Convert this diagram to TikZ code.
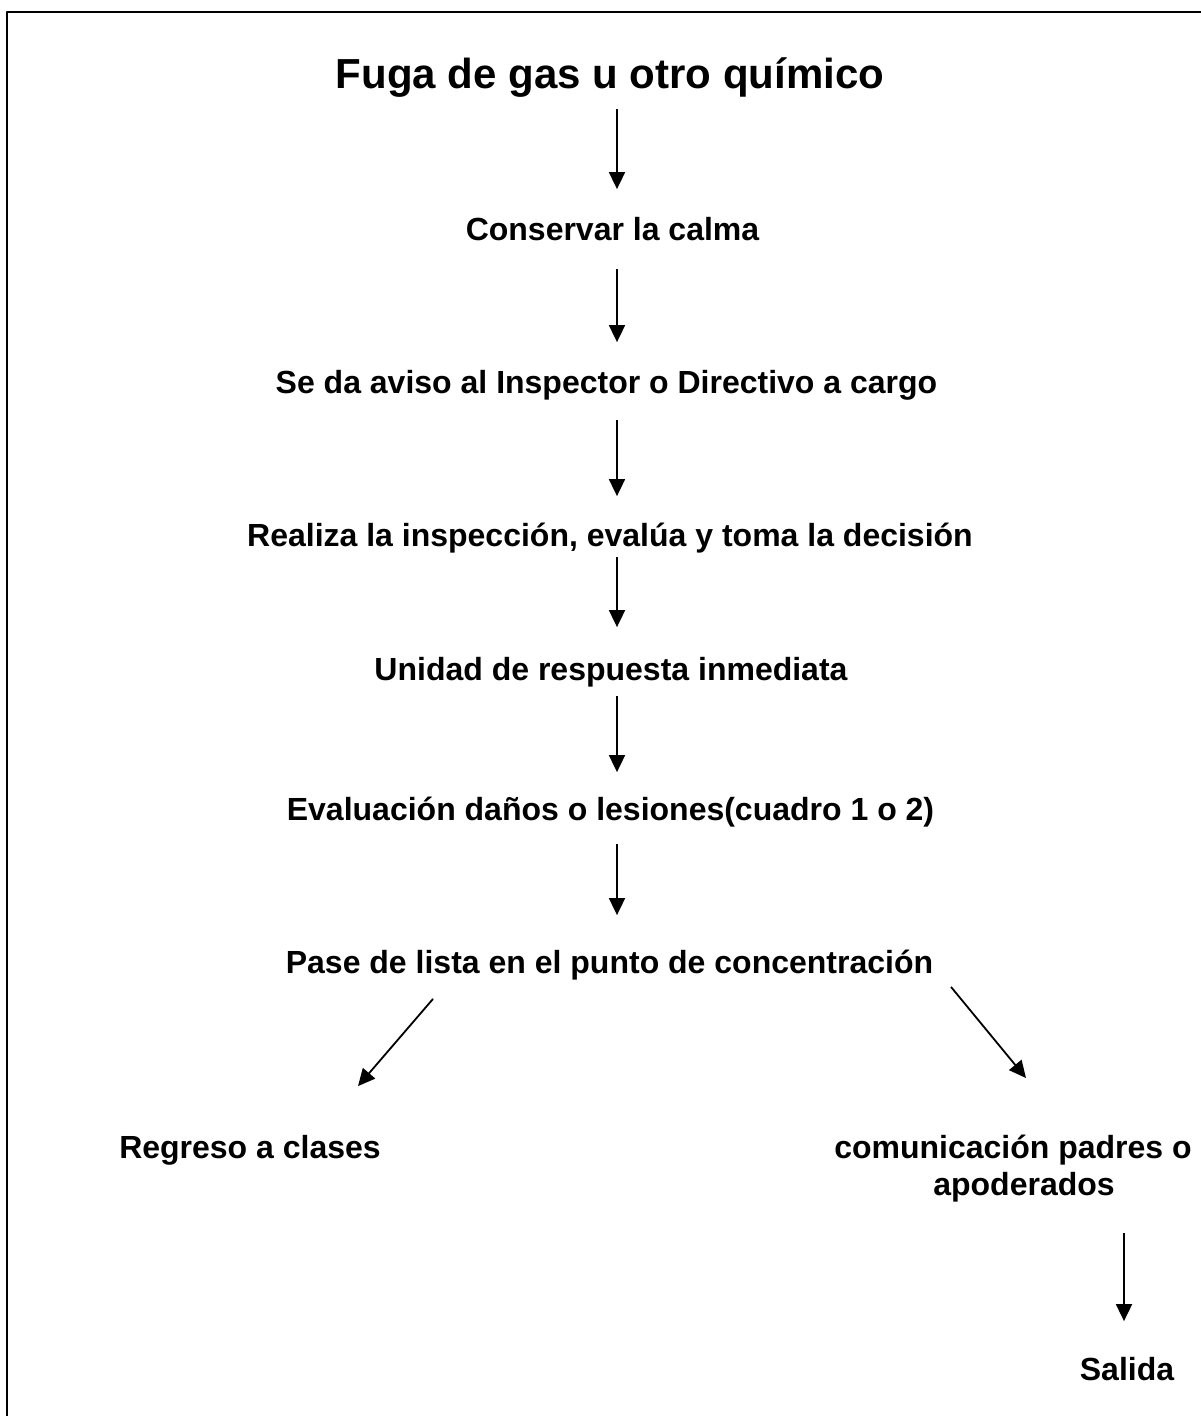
\documentclass[tikz,border=0pt]{standalone}
\usepackage{fontspec}
\setmainfont{Liberation Sans}
\usetikzlibrary{arrows.meta,positioning}

\tikzset{
  rotulo/.style={inner sep=0pt, font=\bfseries\fontsize{32}{37}\selectfont},
  paso/.style={rotulo, anchor=base, text height=24pt, text depth=7pt},
  titulo/.style={paso, font=\bfseries\fontsize{42}{48}\selectfont, text height=31pt, text depth=9pt},
}

\begin{document}
\begin{tikzpicture}[x=1pt,y=-1pt,>={Triangle[width=16pt,length=17pt]},line join=bevel]
  \pgfsetlinewidth{1.8pt}
  \useasboundingbox (0,0) rectangle (1201,1416);
%%
  % Frame
  \draw[line width=2.5pt] (7,1416) -- (7,12) -- (1201,12);
  % Node: fuga
  \node[titulo] (fuga) at (610,88) {Fuga de gas u otro químico};
  % Node: calma
  \node[paso] (calma) at (612.5,240) {Conservar la calma};
  % Node: aviso
  \node[paso] (aviso) at (606.5,393) {Se da aviso al Inspector o Directivo a cargo};
  % Node: inspeccion
  \node[paso] (inspeccion) at (610,546) {Realiza la inspección, evalúa y toma la decisión};
  % Node: unidad
  \node[paso] (unidad) at (611,680) {Unidad de respuesta inmediata};
  % Node: evaluacion
  \node[paso] (evaluacion) at (610.5,820) {Evaluación daños o lesiones(cuadro 1 o 2)};
  % Node: pase
  \node[paso] (pase) at (609.5,973) {Pase de lista en el punto de concentración};
  % Node: regreso
  \node[paso] (regreso) at (250,1158) {Regreso a clases};
  % Node: comunicacion
  \node[rotulo, align=center, anchor=north] (comunicacion) at (1013,1134) {comunicación padres o\\\hspace*{22pt}apoderados};
  % Node: salida
  \node[paso] (salida) at (1127,1380) {Salida};
%
  \coordinate (eje) at (617,0);
  % Edge: fuga -> calma
  \draw[->] ([yshift=-11pt]fuga.south -| eje) -- ([yshift=26pt]calma.north -| eje);
  % Edge: calma -> aviso
  \draw[->] ([yshift=-21pt]calma.south -| eje) -- ([yshift=26pt]aviso.north -| eje);
  % Edge: aviso -> inspeccion
  \draw[->] ([yshift=-19pt]aviso.south -| eje) -- ([yshift=25pt]inspeccion.north -| eje);
  % Edge: inspeccion -> unidad
  \draw[->] ([yshift=-3pt]inspeccion.south -| eje) -- ([yshift=28pt]unidad.north -| eje);
  % Edge: unidad -> evaluacion
  \draw[->] ([yshift=-8pt]unidad.south -| eje) -- ([yshift=23pt]evaluacion.north -| eje);
  % Edge: evaluacion -> pase
  \draw[->] ([yshift=-16pt]evaluacion.south -| eje) -- ([yshift=33pt]pase.north -| eje);
  % Edge: pase -> regreso
  \draw[->] ([yshift=-18pt]pase.south -| 433,0) -- ([yshift=47pt]regreso.north -| 358,0);
  % Edge: pase -> comunicacion
  \draw[->] ([yshift=-6pt]pase.south -| 951,0) -- ([yshift=56pt]comunicacion.north -| 1026,0);
  % Edge: comunicacion -> salida
  \draw[->] ([yshift=-30pt]comunicacion.south -| 1124,0) -- ([yshift=34pt]salida.north -| 1124,0);
%
\end{tikzpicture}
\end{document}
